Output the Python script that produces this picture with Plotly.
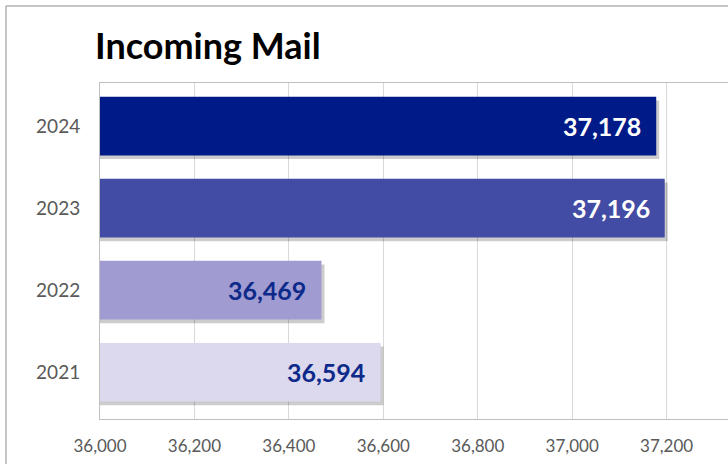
import plotly.graph_objects as go

# Incoming mail counts per year
years = [2021, 2022, 2023, 2024]
mail_counts = [36594, 36469, 37196, 37178]
bar_colors = ["#DCD8EE", "#A09BD1", "#434CA5", "#001A88"]
label_colors = ["#0D2A8A", "#0D2A8A", "#FFFFFF", "#FFFFFF"]
x_ticks = [36000, 36200, 36400, 36600, 36800, 37000, 37200]

BAR_W = 0.715
PX_PER_UNIT = 628 / 1330  # plot width / x-range span
FONT = 'Lato, Open Sans, sans-serif'

fig = go.Figure()

# soft drop shadow behind each bar
fig.add_trace(go.Bar(
    y=years,
    x=[v + 3 / PX_PER_UNIT for v in mail_counts],
    orientation='h',
    width=BAR_W,
    offset=-BAR_W / 2 - 0.045,
    marker=dict(color='rgba(0,0,0,0.2)', line=dict(width=0)),
    hoverinfo='skip',
    showlegend=False,
))

fig.add_trace(go.Bar(
    y=years,
    x=mail_counts,
    orientation='h',
    width=BAR_W,
    marker=dict(color=bar_colors, line=dict(width=0)),
    showlegend=False,
))

# value labels at the inner end of each bar
for yr, val, col in zip(years, mail_counts, label_colors):
    fig.add_annotation(
        x=val, y=yr, xref='x', yref='y',
        text=f"<b>{val:,}</b>",
        showarrow=False,
        xanchor='right', yanchor='middle',
        xshift=-13,
        font=dict(family=FONT, size=25, color=col),
    )

# outer chart frame (cropped on the right and bottom)
fig.add_shape(
    type='rect', xref='paper', yref='paper',
    x0=-94 / 628, x1=1.2, y0=-0.3, y1=1 + 77 / 336,
    line=dict(color='#8C8C8C', width=1),
    layer='below',
)

fig.update_layout(
    width=728, height=464,
    margin=dict(l=100, r=0, t=83, b=45, autoexpand=False),
    barmode='overlay',
    paper_bgcolor='white',
    plot_bgcolor='white',
    title=dict(
        text='<b>Incoming Mail</b>',
        x=95 / 728, xanchor='left', xref='container',
        y=1 - 46 / 464, yanchor='middle', yref='container',
        font=dict(family=FONT, size=36, color='black'),
    ),
    xaxis=dict(
        range=[36000, 36000 + 1330],
        tickvals=x_ticks,
        tickformat=',d',
        showgrid=True, gridcolor='#D9D9D9', gridwidth=1,
        showline=True, linecolor='#BFBFBF', linewidth=1, mirror=True,
        zeroline=False,
        ticks='',
        automargin=False,
        ticklabelstandoff=12,
        tickfont=dict(family=FONT, size=17, color='#595959'),
    ),
    yaxis=dict(
        range=[2020.43, 2024.525],
        tickvals=years,
        tickformat='d',
        showgrid=False,
        zeroline=False,
        showline=True, linecolor='#BFBFBF', linewidth=1,
        ticks='',
        automargin=False,
        ticklabelstandoff=15,
        tickfont=dict(family=FONT, size=19, color='#595959'),
    ),
)

# drop the browser's default page margin so the chart sits at the top-left corner
fig.write_html(
    "out.html",
    config={'displayModeBar': False},
    post_script="document.body.style.margin='0px';",
)
